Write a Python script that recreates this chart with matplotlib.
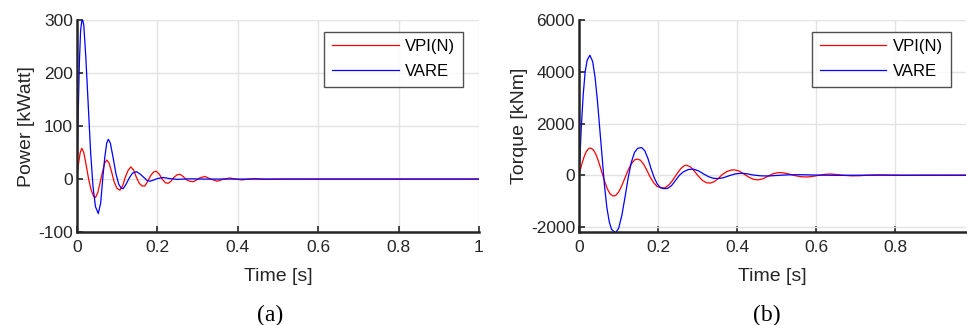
import numpy as np
import matplotlib
matplotlib.use("Agg")
from matplotlib import pyplot as plt

plt.rcParams["axes.unicode_minus"] = False

# (a) power [kWatt] vs time [s]
p_vare_t = [0, 0.003, 0.006, 0.009, 0.013, 0.017, 0.022, 0.028, 0.034, 0.040,
            0.046, 0.053, 0.059, 0.064, 0.069, 0.074, 0.078, 0.083, 0.090, 0.097,
            0.104, 0.110, 0.115, 0.122, 0.130, 0.138, 0.148, 0.158, 0.168, 0.175,
            0.182, 0.190, 0.200, 0.215, 0.230, 0.250, 0.280, 0.320, 1.0]
p_vare = [0, 120, 220, 280, 305, 290, 230, 140, 50, -15,
          -52, -65, -45, 0, 40, 68, 75, 68, 40, 10,
          -10, -17, -18, -10, 2, 11, 14, 9, 2, -3,
          -4, -2, 1, 3, 1, -0.5, 0.5, 0, 0]

p_vpi_t = [0, 0.004, 0.008, 0.012, 0.017, 0.022, 0.029, 0.035, 0.041, 0.046,
           0.052, 0.058, 0.064, 0.069, 0.074, 0.080, 0.086, 0.092, 0.099, 0.107,
           0.114, 0.120, 0.127, 0.134, 0.141, 0.148, 0.155, 0.162, 0.169, 0.176,
           0.183, 0.190, 0.197, 0.205, 0.212, 0.220, 0.227, 0.234, 0.241, 0.249,
           0.256, 0.264, 0.272, 0.280, 0.289, 0.297, 0.305, 0.318, 0.333, 0.349,
           0.365, 0.380, 0.395, 0.410, 0.440, 0.470, 0.500, 1.0]
p_vpi = [2, 30, 50, 58, 50, 30, 0, -20, -32, -35,
         -25, -5, 15, 30, 36, 30, 14, -4, -17, -21,
         -12, 3, 16, 23, 17, 3, -8, -13, -13, -4,
         6, 13, 15, 9, 0, -7, -8, -4, 3, 8,
         9, 5, -1, -4, -5, -2, 2, 5, 0, -4,
         0, 2, 0, -1.5, 1, -0.5, 0, 0]

# (b) torque [kNm] vs time [s]
q_vare_t = [0, 0.005, 0.010, 0.015, 0.020, 0.027, 0.034, 0.040, 0.046, 0.052,
            0.058, 0.064, 0.070, 0.076, 0.082, 0.092, 0.100, 0.108, 0.116, 0.124,
            0.132, 0.140, 0.148, 0.158, 0.166, 0.174, 0.182, 0.190, 0.198, 0.206,
            0.214, 0.224, 0.234, 0.244, 0.254, 0.264, 0.276, 0.289, 0.302, 0.315,
            0.328, 0.340, 0.352, 0.365, 0.380, 0.395, 0.410, 0.425, 0.440, 0.460,
            0.480, 0.500, 0.530, 0.560, 0.600, 0.650, 0.700, 0.980]
q_vare = [0, 1800, 3100, 4000, 4450, 4640, 4400, 3800, 2900, 1800,
          700, -400, -1250, -1800, -2100, -2230, -2050, -1550, -850, -100,
          500, 880, 1040, 1070, 950, 650, 250, -100, -350, -480,
          -520, -510, -400, -200, 0, 130, 220, 235, 170, 50,
          -60, -120, -130, -100, -20, 50, 75, 55, 10, -25,
          -30, -10, 15, 20, 5, -5, 0, 0]

q_vpi_t = [0, 0.006, 0.012, 0.018, 0.024, 0.029, 0.036, 0.043, 0.050, 0.057,
           0.064, 0.071, 0.078, 0.085, 0.092, 0.100, 0.108, 0.116, 0.124, 0.132,
           0.140, 0.147, 0.155, 0.163, 0.171, 0.179, 0.188, 0.197, 0.207, 0.217,
           0.227, 0.237, 0.247, 0.257, 0.266, 0.272, 0.282, 0.292, 0.302, 0.312,
           0.322, 0.332, 0.342, 0.352, 0.362, 0.374, 0.385, 0.394, 0.405, 0.418,
           0.430, 0.442, 0.453, 0.465, 0.478, 0.490, 0.504, 0.515, 0.530, 0.545,
           0.560, 0.576, 0.590, 0.605, 0.620, 0.635, 0.650, 0.670, 0.690, 0.710,
           0.730, 0.760, 0.790, 0.820, 0.860, 0.980]
q_vpi = [40, 400, 700, 920, 1030, 1050, 980, 780, 480, 130,
         -220, -520, -720, -800, -790, -650, -400, -100, 200, 440,
         590, 625, 580, 430, 200, -50, -280, -430, -490, -490,
         -380, -190, 40, 250, 370, 385, 320, 150, -40, -200,
         -290, -305, -250, -130, 20, 140, 200, 205, 160, 40,
         -80, -160, -182, -140, -40, 50, 100, 95, 50, -10,
         -55, -70, -50, -10, 30, 45, 30, -5, -25, -20,
         0, 15, 5, -5, 0, 0]

labels = ["VPI(N)", "VARE"]
tick_font = "Liberation Sans"

fig = plt.figure(figsize=(9.67, 3.25), dpi=100)
ax1 = fig.add_axes([0.0796, 0.286, 0.4157, 0.652])
ax2 = fig.add_axes([0.599, 0.286, 0.400, 0.652])

def style(ax):
    ax.grid(True, color="#e3e3e3", linewidth=1.0)
    ax.set_axisbelow(True)
    for s in ["top", "right"]:
        ax.spines[s].set_visible(False)
    for s in ["left", "bottom"]:
        ax.spines[s].set_linewidth(1.8)
        ax.spines[s].set_color("#262626")
    ax.tick_params(direction="in", length=4, width=1.2, color="#262626",
                   labelsize=12.5, labelcolor="#262626", pad=6)
    ax.tick_params(axis="y", pad=3)
    for lab in ax.get_xticklabels() + ax.get_yticklabels():
        lab.set_fontfamily(tick_font)
    ax.set_xlabel("Time [s]", fontsize=14, family=tick_font, color="#262626", labelpad=9)

ax1.plot(p_vpi_t, p_vpi, color="#ff0000", lw=0.9, label=labels[0])
ax1.plot(p_vare_t, p_vare, color="#0000ff", lw=0.9, label=labels[1])
ax1.set_xlim(0, 1)
ax1.set_ylim(-100, 300)
ax1.set_xticks([0, 0.2, 0.4, 0.6, 0.8, 1])
ax1.set_xticklabels(["0", "0.2", "0.4", "0.6", "0.8", "1"])
ax1.set_yticks([-100, 0, 100, 200, 300])
ax1.set_ylabel("Power [kWatt]", fontsize=14, family=tick_font, color="#262626", labelpad=2)
style(ax1)

ax2.plot(q_vpi_t, q_vpi, color="#ff0000", lw=0.9, label=labels[0])
ax2.plot(q_vare_t, q_vare, color="#0000ff", lw=0.9, label=labels[1])
ax2.set_xlim(0, 0.98)
ax2.set_ylim(-2200, 6000)
ax2.set_xticks([0, 0.2, 0.4, 0.6, 0.8])
ax2.set_xticklabels(["0", "0.2", "0.4", "0.6", "0.8"])
ax2.set_yticks([-2000, 0, 2000, 4000, 6000])
ax2.set_ylabel("Torque [kNm]", fontsize=14, family=tick_font, color="#262626", labelpad=2)
style(ax2)

for ax in (ax1, ax2):
    leg = ax.legend(loc="upper right", bbox_to_anchor=(0.96, 0.945),
                    prop={"family": tick_font, "size": 12}, frameon=True, fancybox=False,
                    handlelength=4.0, handletextpad=0.4, borderpad=0.45, labelspacing=0.6,
                    borderaxespad=0)
    leg.get_frame().set_edgecolor("#262626")
    leg.get_frame().set_linewidth(1.0)

fig.text(0.279, 0.03, "(a)", ha="center", va="center", fontsize=17, family="Liberation Serif")
fig.text(0.793, 0.03, "(b)", ha="center", va="center", fontsize=17, family="Liberation Serif")

fig.savefig("out.png", dpi=100)
